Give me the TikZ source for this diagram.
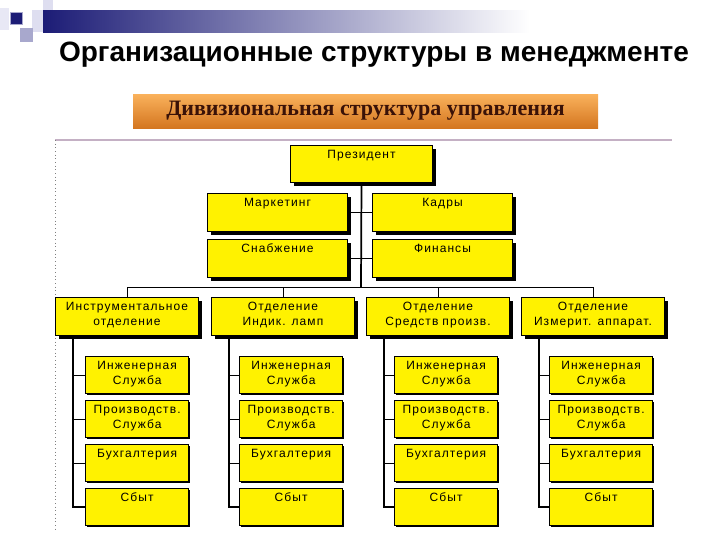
\documentclass[tikz,border=0pt]{standalone}
\usepackage{fontspec}
\setmainfont{Liberation Sans}
\newfontfamily\boxfont[LetterSpace=9]{Liberation Sans}
\newfontfamily\bannerfont{Liberation Serif}
\usetikzlibrary{shadows}

\definecolor{navy}{RGB}{28,28,118}
\definecolor{lavlight}{RGB}{222,222,240}
\definecolor{lavmid}{RGB}{168,168,205}
\definecolor{bannertop}{RGB}{250,178,92}
\definecolor{bannerbot}{RGB}{212,118,32}
\definecolor{bannertext}{RGB}{58,18,8}
\definecolor{framecol}{RGB}{196,176,196}

\tikzset{
  orgbox/.style={draw=black, fill=yellow, align=center, anchor=north west, inner xsep=0pt, inner ysep=2.25pt, text height=7.5pt, font=\boxfont\fontsize{9}{11.25}\selectfont},
  chief/.style={orgbox, line width=0.75pt, text width=106.5pt, text depth=15.75pt, drop shadow={shadow xshift=2.25pt, shadow yshift=-2.25pt, opacity=1, fill=black}},
  staff/.style={orgbox, line width=0.75pt, text width=105pt, text depth=16.5pt, drop shadow={shadow xshift=2.25pt, shadow yshift=-2.25pt, opacity=1, fill=black}},
  division/.style={orgbox, line width=0.75pt, text width=107.25pt, text depth=16.5pt, drop shadow={shadow xshift=2.25pt, shadow yshift=-2.25pt, opacity=1, fill=black}},
  unit/.style={orgbox, line width=0.75pt, text width=77.5pt, text depth=15.75pt, drop shadow={shadow xshift=1.2pt, shadow yshift=-1.2pt, opacity=1, fill=black}},
  link/.style={draw=black, line width=0.75pt},
  trunk/.style={draw=black, line width=1.3pt}
}

\begin{document}
\begin{tikzpicture}[x=0.75pt,y=0.75pt,yscale=-1,xscale=1]
\useasboundingbox (0,0) rectangle (720,540);

%Shape: corner squares and bar
\shade [left color=navy, right color=white] (43,10) rectangle (530,32);
\fill [lavlight] (43,0) rectangle (53,10);
\fill [lavlight] (32,10) rectangle (43,32);
\fill [lavlight!70] (0,8) rectangle (9,30);
\fill [lavmid] (20,28) rectangle (33,42);
\draw [lavmid, fill=navy] (10,12) rectangle (22,24);

% Text Node
\node (title) at (374,55) {\fontsize{21}{24}\selectfont\bfseries Организационные структуры в менеджменте};

%Shape: banner
\node (banner) [shade, top color=bannertop, bottom color=bannerbot, minimum width=348.75pt, minimum height=25.5pt, inner sep=0pt] at (365.5,111) {\bannerfont\fontsize{16.5}{19}\selectfont\bfseries\color{bannertext}Дивизиональная структура управления};

%Shape: frame
\draw [framecol, line width=1.5pt] (55,140) -- (672,140);
\draw [gray, dotted, line width=0.75pt] (55,140) -- (55,530);

% Top level
\node (pres) [chief] at (290,145) {Президент};
\node (mark) [staff] at (207,193) {Маркетинг};
\node (kadr) [staff] at (372,193) {Кадры};
\node (snab) [staff] at (207,239) {Снабжение};
\node (fin) [staff] at (372,239) {Финансы};
\coordinate (bus) at (361,287);

% Divisions
\node (div1) [division] at (55,297) {Инструментальное\\отделение};
\node (div2) [division] at (211,297) {Отделение\\Индик. ламп};
\node (div3) [division] at (366,297) {Отделение\\Средств произв.};
\node (div4) [division] at (521,297) {Отделение\\Измерит. аппарат.};

% Units of the first division
\node (u1a) [unit] at (85,356) {Инженерная\\Служба};
\node (u1b) [unit] at (85,400) {Производств.\\Служба};
\node (u1c) [unit] at (85,444) {Бухгалтерия};
\node (u1d) [unit] at (85,488) {Сбыт};
% Units of the second division
\node (u2a) [unit] at (239,356) {Инженерная\\Служба};
\node (u2b) [unit] at (239,400) {Производств.\\Служба};
\node (u2c) [unit] at (239,444) {Бухгалтерия};
\node (u2d) [unit] at (239,488) {Сбыт};
% Units of the third division
\node (u3a) [unit] at (394,356) {Инженерная\\Служба};
\node (u3b) [unit] at (394,400) {Производств.\\Служба};
\node (u3c) [unit] at (394,444) {Бухгалтерия};
\node (u3d) [unit] at (394,488) {Сбыт};
% Units of the fourth division
\node (u4a) [unit] at (549,356) {Инженерная\\Служба};
\node (u4b) [unit] at (549,400) {Производств.\\Служба};
\node (u4c) [unit] at (549,444) {Бухгалтерия};
\node (u4d) [unit] at (549,488) {Сбыт};

% Connectors
\draw [trunk] (pres.south) -- (bus);
\draw [link] (mark.east) -- (kadr.west);
\draw [link] (snab.east) -- (fin.west);
\draw [link] (bus) -| (div1.north);
\draw [link] (bus) -| (div2.north);
\draw [link] (bus) -| (div3.north);
\draw [link] (bus) -| (div4.north);

\draw [trunk] ([xshift=13.5pt]div1.south west) |- (u1d.west);
\draw [link] ([xshift=13.5pt]div1.south west) |- (u1a.west);
\draw [link] ([xshift=13.5pt]div1.south west) |- (u1b.west);
\draw [link] ([xshift=13.5pt]div1.south west) |- (u1c.west);

\draw [trunk] ([xshift=13.5pt]div2.south west) |- (u2d.west);
\draw [link] ([xshift=13.5pt]div2.south west) |- (u2a.west);
\draw [link] ([xshift=13.5pt]div2.south west) |- (u2b.west);
\draw [link] ([xshift=13.5pt]div2.south west) |- (u2c.west);

\draw [trunk] ([xshift=13.5pt]div3.south west) |- (u3d.west);
\draw [link] ([xshift=13.5pt]div3.south west) |- (u3a.west);
\draw [link] ([xshift=13.5pt]div3.south west) |- (u3b.west);
\draw [link] ([xshift=13.5pt]div3.south west) |- (u3c.west);

\draw [trunk] ([xshift=13.5pt]div4.south west) |- (u4d.west);
\draw [link] ([xshift=13.5pt]div4.south west) |- (u4a.west);
\draw [link] ([xshift=13.5pt]div4.south west) |- (u4b.west);
\draw [link] ([xshift=13.5pt]div4.south west) |- (u4c.west);
\end{tikzpicture}
\end{document}
